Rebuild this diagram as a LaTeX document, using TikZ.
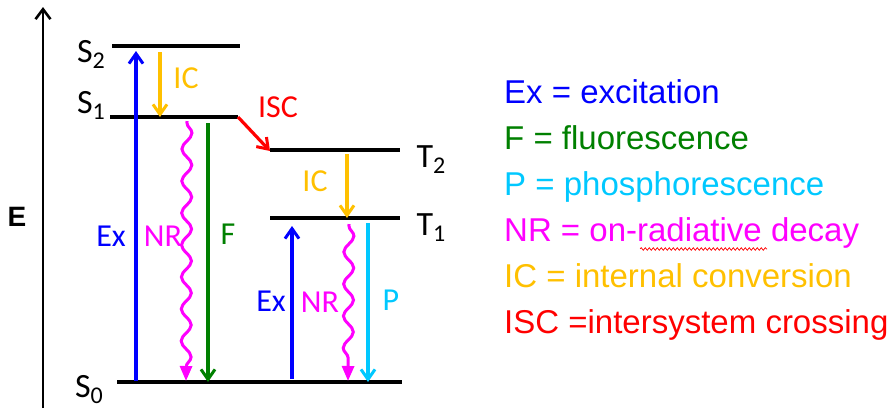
\documentclass[tikz,border=0pt]{standalone}
\usepackage{fontspec}
\setmainfont{Liberation Sans}
\newfontfamily\calibrifont{Carlito}
\usetikzlibrary{arrows.meta,decorations.pathmorphing}
\definecolor{exblue}{RGB}{0,0,255}
\definecolor{fgreen}{RGB}{0,128,0}
\definecolor{pcyan}{RGB}{0,200,255}
\definecolor{nrmag}{RGB}{255,0,255}
\definecolor{icorange}{RGB}{255,192,0}
\definecolor{iscred}{RGB}{255,0,0}
\newcommand{\lvlname}[2]{{\calibrifont\fontsize{34}{38}\selectfont #1\raisebox{-6pt}{\fontsize{24}{26}\selectfont #2}}}
\begin{document}
\begin{tikzpicture}[x=1pt,y=-1pt,
  level/.style={line width=4.2pt},
  trans/.style={line width=3.2pt,-{Straight Barb[length=10pt,width=14pt,line width=3pt]}},
  wavy/.style={line width=3pt,nrmag,decorate,
     decoration={snake,segment length=32pt,amplitude=5pt,pre length=2pt,post length=14pt},
     -{Triangle[length=15pt,width=12pt]}},
  lab/.style={inner sep=0pt,font=\calibrifont\fontsize{32}{34}\selectfont},
  leg/.style={anchor=base west,inner sep=0pt,font=\fontsize{33}{38}\selectfont},
  lvl/.style={inner sep=0pt}]
\useasboundingbox (0,0) rectangle (894,410);
% axis
\coordinate (axb) at (43,408);
\coordinate (axt) at (43,7);
\draw[line width=2.8pt,-{Straight Barb[length=10pt,width=15pt,line width=2.6pt]}] (axb) -- (axt);
\node[inner sep=0pt,font=\bfseries\fontsize{28}{30}\selectfont] (E) at (17,217) {E};
% levels
\coordinate (s2a) at (112,46);  \coordinate (s2b) at (240,46);
\coordinate (s1a) at (110,117); \coordinate (s1b) at (238,117);
\coordinate (t2a) at (270,150); \coordinate (t2b) at (400,150);
\coordinate (t1a) at (270,218); \coordinate (t1b) at (400,218);
\coordinate (s0a) at (117,382); \coordinate (s0b) at (402,382);
\draw[level] (s2a) -- (s2b);
\draw[level] (s1a) -- (s1b);
\draw[level] (t2a) -- (t2b);
\draw[level] (t1a) -- (t1b);
\draw[level] (s0a) -- (s0b);
\node[lvl] (S2) at (91,54) {\lvlname{S}{2}};
\node[lvl] (S1) at (91,105) {\lvlname{S}{1}};
\node[lvl] (S0) at (89,390) {\lvlname{S}{0}};
\node[lvl] (T2) at (431,160) {\lvlname{T}{2}};
\node[lvl] (T1) at (431,228) {\lvlname{T}{1}};
% transitions left
\coordinate (ex1a) at (136,381); \coordinate (ex1b) at (136,51);
\draw[trans,exblue] (ex1a) -- (ex1b);
\coordinate (ic1a) at (160,52); \coordinate (ic1b) at (160,117);
\draw[trans,icorange] (ic1a) -- (ic1b);
\coordinate (nr1a) at (187,121); \coordinate (nr1b) at (186,381);
\draw[wavy] (nr1a) -- (nr1b);
\coordinate (f1a) at (208,123); \coordinate (f1b) at (208,382);
\draw[trans,fgreen] (f1a) -- (f1b);
\coordinate (isca) at (238,117); \coordinate (iscb) at (270,151);
\draw[trans,iscred] (isca) -- (iscb);
% transitions right
\coordinate (ic2a) at (347,154); \coordinate (ic2b) at (347,218);
\draw[trans,icorange] (ic2a) -- (ic2b);
\coordinate (ex2a) at (292,379); \coordinate (ex2b) at (292,226);
\draw[trans,exblue] (ex2a) -- (ex2b);
\coordinate (nr2a) at (349,224); \coordinate (nr2b) at (348,381);
\draw[wavy] (nr2a) -- (nr2b);
\coordinate (pa) at (368,223); \coordinate (pb) at (368,382);
\draw[trans,pcyan] (pa) -- (pb);
% labels
\node[lab,text=exblue] (lEx1) at (111,236) {Ex};
\node[lab,text=nrmag] (lNR1) at (163,236) {NR};
\node[lab,text=fgreen] (lF) at (228,234) {F};
\node[lab,text=icorange] (lIC1) at (186,78) {IC};
\node[lab,text=iscred] (lISC) at (278,107) {ISC};
\node[lab,text=icorange] (lIC2) at (315,181) {IC};
\node[lab,text=exblue] (lEx2) at (271,301) {Ex};
\node[lab,text=nrmag] (lNR2) at (320,302) {NR};
\node[lab,text=pcyan] (lP) at (391,300) {P};
% legend
\node[leg,text=exblue] (g1) at (504,103) {Ex = excitation};
\node[leg,text=fgreen] (g2) at (504,149) {F = fluorescence};
\node[leg,text=pcyan] (g3) at (504,195) {P = phosphorescence};
\node[leg,text=nrmag] (g4) at (504,241) {NR = on-radiative decay};
\node[leg,text=icorange] (g5) at (504,287) {IC = internal conversion};
\node[leg,text=iscred] (g6) at (504,333) {ISC =intersystem crossing};
\coordinate (sqa) at (640,249); \coordinate (sqb) at (767,249);
\draw[iscred,line width=0.7pt,decorate,decoration={snake,segment length=4pt,amplitude=1.3pt}] (sqa) -- (sqb);
\end{tikzpicture}
\end{document}
